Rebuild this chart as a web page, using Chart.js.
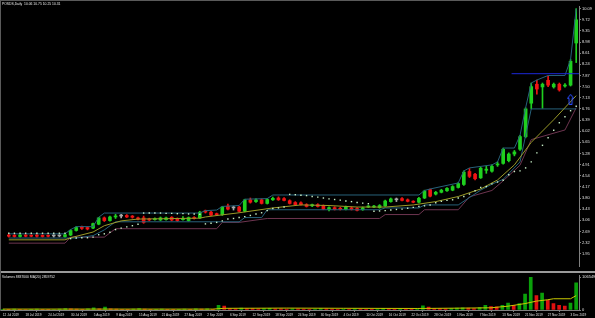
<!DOCTYPE html>
<html><head><meta charset="utf-8">
<script src="https://cdn.jsdelivr.net/npm/chart.js@4.4.1/dist/chart.umd.min.js"></script>
<style>
html,body{margin:0;padding:0;background:#000;width:595px;height:318px;overflow:hidden;}
#wrap{position:relative;width:595px;height:318px;background:#000;}
#main{position:absolute;left:0;top:0;}
#vol{position:absolute;left:0;top:272px;}
#sep{position:absolute;left:0;top:271px;width:595px;height:2px;background:#9a9a9a;}
#fl{position:absolute;left:0;top:0;width:1px;height:311px;background:#5a5a5a;}
#ft{position:absolute;left:0;top:0;width:580px;height:1px;background:#5a5a5a;}
.ttl{position:absolute;font:8px 'Liberation Sans',Arial,sans-serif;color:#e8e8e8;transform:scale(0.42);transform-origin:0 0;white-space:pre;}
</style></head>
<body><div id="wrap">
<canvas id="main" width="595" height="272"></canvas>
<canvas id="vol" width="595" height="46"></canvas>
<div id="sep"></div><div id="fl"></div><div id="ft"></div>
<div class="ttl" style="left:2px;top:2px">POSDS,Daily  10.06 10.75 10.25 10.31</div>
<div class="ttl" style="left:2px;top:275px">Volumes 8837000 MA(20) 2859752</div>
</div>
<script>
const xTickLabels = ['12 Jul 2019','18 Jul 2019','24 Jul 2019','30 Jul 2019','5 Aug 2019','9 Aug 2019','15 Aug 2019','21 Aug 2019','27 Aug 2019','2 Sep 2019','6 Sep 2019','12 Sep 2019','18 Sep 2019','24 Sep 2019','30 Sep 2019','4 Oct 2019','10 Oct 2019','16 Oct 2019','22 Oct 2019','28 Oct 2019','1 Nov 2019','7 Nov 2019','13 Nov 2019','21 Nov 2019','27 Nov 2019','3 Dec 2019'];
const xTickStep = 4;
const priceTickLabels = ['10.09','9.72','9.35','8.98','8.61','8.24','7.87','7.50','7.13','6.76','6.39','6.02','5.65','5.28','4.91','4.54','4.17','3.80','3.43','3.06','2.69','2.32','1.95'];

const open = [2.57,2.56,2.52,2.57,2.56,2.57,2.56,2.56,2.54,2.54,2.52,
2.57,2.72,2.85,2.82,2.80,2.93,3.14,3.05,3.17,
3.20,3.22,3.20,3.14,3.14,3.10,3.08,3.07,3.08,3.16,
3.12,3.08,3.05,3.15,3.14,3.38,3.33,3.28,3.25,3.53,
3.47,3.50,3.36,3.74,3.68,3.74,3.62,3.74,3.80,3.78,
3.71,3.65,3.64,3.58,3.54,3.58,3.55,3.42,3.48,3.46,
3.42,3.47,3.45,3.41,3.50,3.50,3.48,3.54,3.68,3.74,
3.78,3.74,3.68,3.66,3.80,4.08,3.93,3.99,4.04,4.06,
4.15,4.25,4.68,4.59,4.47,4.72,4.69,4.90,4.95,5.04,
5.26,5.42,5.84,6.95,7.58,7.49,7.71,7.49,7.58,7.52,
7.55,8.95];
const high = [2.60,2.59,2.60,2.59,2.58,2.59,2.58,2.58,2.58,2.58,2.60,
2.75,2.85,2.87,2.84,2.97,3.16,3.17,3.20,3.26,
3.26,3.25,3.22,3.17,3.20,3.13,3.14,3.17,3.17,3.18,
3.14,3.18,3.17,3.18,3.36,3.40,3.36,3.30,3.52,3.60,
3.53,3.52,3.76,3.80,3.78,3.77,3.78,3.83,3.84,3.81,
3.74,3.68,3.67,3.61,3.60,3.61,3.57,3.51,3.51,3.49,
3.53,3.50,3.48,3.50,3.55,3.56,3.58,3.73,3.80,3.80,
3.81,3.77,3.71,3.82,4.06,4.10,4.02,4.09,4.15,4.21,
4.31,4.70,4.78,4.62,4.82,4.86,4.90,5.00,5.46,5.30,
5.38,5.88,6.80,7.62,7.72,7.62,7.85,7.62,7.62,7.60,
8.40,10.09];
const low = [2.50,2.50,2.50,2.51,2.51,2.50,2.50,2.51,2.50,2.51,2.50,
2.55,2.70,2.76,2.74,2.78,2.91,3.02,3.03,3.12,
3.14,3.15,3.13,3.07,2.96,3.04,3.06,3.05,3.06,3.04,
3.02,3.06,3.03,3.10,3.12,3.30,3.21,3.22,3.22,3.40,
3.40,3.34,3.34,3.63,3.65,3.60,3.60,3.72,3.72,3.70,
3.60,3.56,3.56,3.50,3.51,3.50,3.41,3.37,3.40,3.40,
3.40,3.40,3.37,3.39,3.48,3.48,3.46,3.52,3.66,3.68,
3.70,3.67,3.64,3.64,3.78,3.84,3.90,3.97,4.02,4.04,
4.13,4.22,4.48,4.40,4.45,4.62,4.66,4.85,4.92,5.00,
5.20,5.38,5.80,6.76,7.25,6.78,7.50,7.45,7.35,7.48,
7.52,8.30];
const close = [2.53,2.52,2.57,2.53,2.53,2.53,2.52,2.53,2.54,2.54,2.58,
2.72,2.82,2.79,2.77,2.95,3.14,3.05,3.17,3.19,
3.20,3.17,3.16,3.10,2.99,3.07,3.11,3.14,3.14,3.07,
3.05,3.12,3.15,3.12,3.33,3.33,3.23,3.24,3.50,3.43,
3.47,3.36,3.74,3.66,3.74,3.62,3.75,3.79,3.74,3.72,
3.62,3.58,3.58,3.52,3.58,3.52,3.43,3.48,3.42,3.42,
3.50,3.42,3.39,3.47,3.52,3.53,3.55,3.70,3.77,3.74,
3.72,3.69,3.66,3.79,4.03,3.86,3.99,4.06,4.12,4.18,
4.28,4.66,4.52,4.44,4.79,4.76,4.85,4.93,5.42,5.26,
5.33,5.84,6.76,7.50,7.42,7.58,7.55,7.58,7.39,7.55,
8.34,9.72];
const sar = [2.63,2.63,2.63,2.63,2.63,2.63,2.63,2.63,2.63,2.63,2.63,
2.45,2.47,2.48,2.48,2.50,2.58,2.61,2.66,2.75,2.80,2.84,2.88,2.93,
3.30,3.30,3.30,3.30,3.29,3.29,3.28,3.28,3.27,3.27,3.26,
2.94,2.96,2.99,3.04,3.10,3.12,3.15,3.18,3.22,3.27,3.31,3.38,3.45,3.47,3.50,
3.92,3.91,3.89,3.88,3.85,3.83,3.80,3.77,3.75,3.73,3.70,3.68,3.65,3.63,3.61,
3.36,3.37,3.38,3.40,3.42,3.43,3.46,3.49,3.52,3.54,3.57,3.64,3.69,3.72,3.74,3.80,3.85,3.93,4.04,4.15,4.18,4.27,4.33,4.39,4.57,4.68,4.70,4.80,5.00,
5.30,5.55,5.80,6.05,6.30,6.50,6.70,6.85];
const channelUpper = [[0,2.61],[10,2.61],[11,2.75],[12,2.85],[15,2.85],[16,3.16],[17,3.30],[34,3.30],[35,3.38],[37,3.40],[38,3.52],[41,3.55],[42,3.76],[46,3.78],[47,3.90],[73,3.90],[74,4.05],[75,4.10],[80,4.30],[81,4.70],[82,4.80],[86,4.90],[87,5.00],[88,5.46],[90,5.46],[91,5.88],[92,6.80],[93,7.62],[94,7.72],[96,7.87],[99,7.87],[100,8.40],[101,10.09]];
const channelLower = [[0,2.47],[12,2.47],[15,2.55],[17,2.74],[19,3.01],[41,3.01],[42,3.15],[45,3.15],[46,3.41],[66,3.41],[67,3.47],[73,3.47],[74,3.57],[80,3.57],[84,4.06],[86,4.26],[88,4.42],[91,5.00],[93,6.76],[101,6.76]];
const maLine = [[0,2.41],[10,2.41],[11,2.48],[15,2.67],[17,2.88],[20,3.04],[23,3.10],[34,3.13],[35,3.17],[41,3.31],[47,3.47],[52,3.57],[57,3.55],[62,3.50],[67,3.50],[72,3.57],[76,3.68],[80,3.85],[84,4.10],[87,4.40],[90,4.90],[93,5.65],[97,6.40],[101,7.20]];
const bandLower = [[0,2.30],[10,2.30],[11,2.50],[17,2.50],[19,2.78],[37,2.78],[38,2.99],[41,2.99],[46,3.12],[66,3.12],[67,3.25],[73,3.25],[74,3.41],[80,3.41],[82,3.84],[86,4.05],[88,4.37],[91,4.89],[93,5.74],[99,6.06],[101,6.80]];
const hLevel = 7.93, hLevelStart = 89.5;
const arrowPoint = [100, 7.08];

const volume = [250000,180000,300000,220000,150000,200000,260000,180000,120000,150000,300000,
500000,420000,300000,250000,400000,720000,350000,940000,400000,300000,
250000,200000,260000,450000,300000,200000,250000,300000,220000,180000,
230000,300000,200000,400000,300000,350000,250000,1560000,1250000,500000,
400000,600000,500000,450000,400000,500000,550000,400000,350000,300000,
400000,350000,300000,250000,300000,450000,350000,300000,250000,300000,
250000,350000,300000,250000,200000,300000,550000,450000,300000,350000,
250000,200000,400000,1340000,940000,500000,450000,400000,500000,600000,
700000,600000,500000,800000,1560000,1100000,1030000,1560000,2280000,1560000,
2090000,5210000,10654904,4680000,5530000,3120000,2090000,1560000,1250000,2280000,
8840000];
const volMA = [[0,300000],[37,300000],[39,550000],[50,620000],[60,560000],[73,500000],[80,600000],[86,720000],[89,1250000],[92,2100000],[94,2900000],[96,3350000],[97,3670000],[100,3670000],[101,4700000]];
const volTickValues = [0, 10654904];

const N = open.length;
const idx = Array.from({length:N},(_,i)=>i);
const UP='#1fd01f', DN='#f01414', DOJI='#a8a8a8';
const candleColor = idx.map(i => close[i]>open[i]?UP:(close[i]<open[i]?DN:DOJI));
const FONT = {family:"'Liberation Sans', Arial, sans-serif", size:4};
const XFONT = {family:"'Liberation Sans', Arial, sans-serif", size:3.1};
const TXT = '#e0e0e0', AX = '#808080';

function arrowImg(){
  const c=document.createElement('canvas'); c.width=7; c.height=11;
  const g=c.getContext('2d'); g.strokeStyle='#2a4cff'; g.lineWidth=1;
  g.beginPath(); g.moveTo(3.5,0.5); g.lineTo(6.5,4.5); g.lineTo(5,4.5); g.lineTo(5,10.5); g.lineTo(2,10.5); g.lineTo(2,4.5); g.lineTo(0.5,4.5); g.closePath(); g.stroke();
  return c;
}
const pts = a => a.map(p=>({x:p[0],y:p[1]}));
const lineDs = (data,color,order) => ({type:'line',data:pts(data),borderColor:color,borderWidth:1,pointRadius:0,tension:0,order:order,fill:false});

new Chart(document.getElementById('main'),{
  type:'bar',
  data:{datasets:[
    {type:'bar',data:idx.map(i=>({x:i,y:[low[i],high[i]]})),backgroundColor:candleColor,barThickness:1,grouped:false,order:10},
    {type:'bar',data:idx.map(i=>({x:i,y:[open[i],close[i]]})),backgroundColor:candleColor,barThickness:3,minBarLength:1,grouped:false,order:9},
    lineDs(bandLower,'#6e3550',4),
    lineDs(channelLower,'#27617a',3),
    lineDs(channelUpper,'#27617a',3),
    lineDs(maLine,'#9a9a28',2),
    {type:'line',data:idx.map(i=>({x:i,y:sar[i]})),showLine:false,pointStyle:'rect',pointRadius:1,backgroundColor:'#c8f0c8',borderWidth:0,order:1},
    {type:'line',data:[{x:hLevelStart,y:hLevel},{x:N-0.5,y:hLevel}],borderColor:'#1c28d8',borderWidth:1,pointRadius:0,order:0},
    {type:'line',data:[{x:arrowPoint[0],y:arrowPoint[1]}],showLine:false,pointStyle:arrowImg(),pointRadius:5,order:0}
  ]},
  options:{
    responsive:false,animation:false,
    layout:{padding:0},
    plugins:{legend:{display:false},tooltip:{enabled:false}},
    scales:{
      x:{type:'linear',min:-0.5,max:N-0.5,display:false,offset:false},
      y:{position:'right',min:1.541,max:10.179,
        afterFit:s=>{s.width=16;},
        afterBuildTicks:s=>{s.ticks=priceTickLabels.map(t=>({value:parseFloat(t)}));},
        ticks:{autoSkip:false,font:FONT,color:TXT,padding:1,callback:(v)=>priceTickLabels.find(t=>parseFloat(t)===v)||''},
        grid:{drawOnChartArea:false,drawTicks:true,tickLength:2,color:AX},
        border:{display:true,color:AX}
      }
    }
  }
});

new Chart(document.getElementById('vol'),{
  type:'bar',
  data:{datasets:[
    {type:'bar',data:idx.map(i=>({x:i,y:volume[i]})),backgroundColor:idx.map(i=>(i>0&&volume[i]<volume[i-1])?'#e01010':'#0aa00a'),barThickness:3,grouped:false,order:2},
    {type:'line',data:pts(volMA),borderColor:'#c8c800',borderWidth:1,pointRadius:0,tension:0,order:1}
  ]},
  options:{
    responsive:false,animation:false,
    layout:{padding:{top:2}},
    plugins:{legend:{display:false},tooltip:{enabled:false}},
    scales:{
      x:{type:'linear',min:-0.5,max:N-0.5,offset:false,
        afterFit:s=>{s.height=8;},
        afterBuildTicks:s=>{s.ticks=xTickLabels.map((t,k)=>({value:k*xTickStep}));},
        ticks:{autoSkip:false,maxRotation:0,align:'start',font:XFONT,color:TXT,padding:1,callback:(v)=>xTickLabels[Math.round(v/xTickStep)]},
        grid:{drawOnChartArea:false,drawTicks:true,tickLength:2,color:AX},
        border:{display:true,color:AX}
      },
      y:{position:'right',min:0,max:11300000,
        afterFit:s=>{s.width=16;},
        afterBuildTicks:s=>{s.ticks=volTickValues.map(v=>({value:v}));},
        ticks:{autoSkip:false,font:FONT,color:TXT,padding:1,callback:(v)=>String(v)},
        grid:{drawOnChartArea:false,drawTicks:true,tickLength:2,color:AX},
        border:{display:true,color:AX}
      }
    }
  }
});
</script>
</body></html>
